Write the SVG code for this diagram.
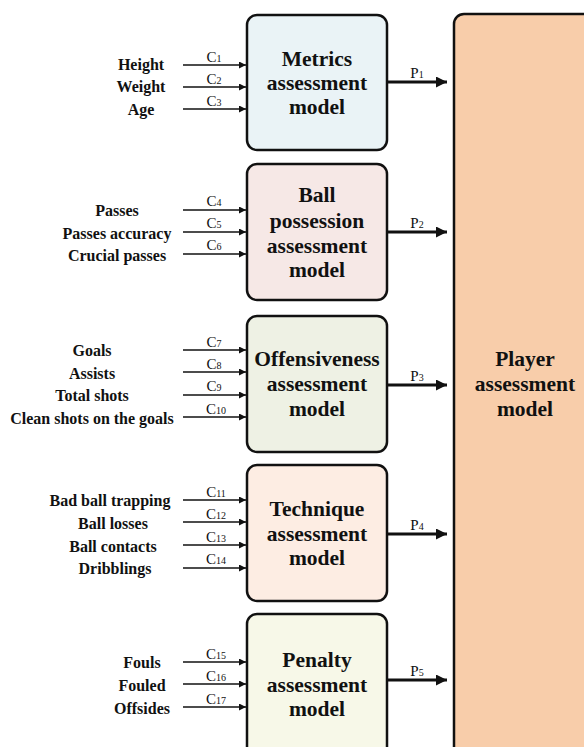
<svg xmlns="http://www.w3.org/2000/svg" width="584" height="747" viewBox="0 0 584 747">
<style>
text{font-family:"Liberation Serif","DejaVu Serif",serif;font-weight:bold;fill:#111}
.lbl{font-size:16px;text-anchor:middle}
.box{stroke:#111;stroke-width:2.5}
.bt{font-size:21.5px;text-anchor:middle}
.c{font-size:15px;text-anchor:middle;font-weight:normal}
.c tspan{font-size:10px}
.in{stroke:#111;stroke-width:1.5;marker-end:url(#a1)}
.out{stroke:#111;stroke-width:3;marker-end:url(#a2)}
</style>
<defs>
<marker id="a1" viewBox="0 0 10 10" refX="10" refY="5" markerWidth="7" markerHeight="7" markerUnits="userSpaceOnUse" orient="auto"><path d="M0,0L10,5L0,10z" fill="#111"/></marker>
<marker id="a2" viewBox="0 0 10 10" refX="10" refY="5" markerWidth="11" markerHeight="11" markerUnits="userSpaceOnUse" orient="auto"><path d="M0,0L10,5L0,10z" fill="#111"/></marker>
</defs>
<rect width="584" height="747" fill="#fff"/>

<g id="player">
<rect class="box" x="454" y="14" width="150" height="760" rx="10" fill="#F8CDAA"/>
<text class="bt" x="525" y="366">Player</text>
<text class="bt" x="525" y="391">assessment</text>
<text class="bt" x="525" y="416">model</text>
</g>

<g id="metrics">
<rect class="box" x="247" y="15" width="140" height="135" rx="10" fill="#EAF3F6"/>
<text class="bt" x="317" y="66">Metrics</text>
<text class="bt" x="317" y="90">assessment</text>
<text class="bt" x="317" y="114">model</text>
</g>
<g id="possession">
<rect class="box" x="247" y="164" width="140" height="136" rx="10" fill="#F6E8E6"/>
<text class="bt" x="317" y="202">Ball</text>
<text class="bt" x="317" y="228">possession</text>
<text class="bt" x="317" y="253">assessment</text>
<text class="bt" x="317" y="277">model</text>
</g>
<g id="offensiveness">
<rect class="box" x="247" y="316" width="140" height="136" rx="10" fill="#EEF1E4"/>
<text class="bt" x="317" y="366">Offensiveness</text>
<text class="bt" x="317" y="391">assessment</text>
<text class="bt" x="317" y="416">model</text>
</g>
<g id="technique">
<rect class="box" x="247" y="465" width="140" height="136" rx="10" fill="#FDEDE3"/>
<text class="bt" x="317" y="516">Technique</text>
<text class="bt" x="317" y="541">assessment</text>
<text class="bt" x="317" y="565">model</text>
</g>
<g id="penalty">
<rect class="box" x="247" y="614" width="140" height="160" rx="10" fill="#F7F8E8"/>
<text class="bt" x="317" y="667">Penalty</text>
<text class="bt" x="317" y="692">assessment</text>
<text class="bt" x="317" y="716">model</text>
</g>

<g id="labels">
<text class="lbl" x="141" y="70">Height</text>
<text class="lbl" x="141" y="92">Weight</text>
<text class="lbl" x="141" y="115">Age</text>
<text class="lbl" x="117" y="216">Passes</text>
<text class="lbl" x="117" y="239">Passes accuracy</text>
<text class="lbl" x="117" y="261">Crucial passes</text>
<text class="lbl" x="92" y="356">Goals</text>
<text class="lbl" x="92" y="379">Assists</text>
<text class="lbl" x="92" y="401">Total shots</text>
<text class="lbl" x="92" y="424">Clean shots on the goals</text>
<text class="lbl" x="110" y="506">Bad ball trapping</text>
<text class="lbl" x="113" y="529">Ball losses</text>
<text class="lbl" x="113" y="552">Ball contacts</text>
<text class="lbl" x="115" y="574">Dribblings</text>
<text class="lbl" x="142" y="668">Fouls</text>
<text class="lbl" x="142" y="691">Fouled</text>
<text class="lbl" x="142" y="714">Offsides</text>
</g>

<g id="connectors">
<line class="in" x1="183" y1="65" x2="246" y2="65"/>
<line class="in" x1="183" y1="87" x2="246" y2="87"/>
<line class="in" x1="183" y1="109" x2="246" y2="109"/>
<line class="in" x1="183" y1="210" x2="246" y2="210"/>
<line class="in" x1="183" y1="232" x2="246" y2="232"/>
<line class="in" x1="183" y1="254" x2="246" y2="254"/>
<line class="in" x1="183" y1="350" x2="246" y2="350"/>
<line class="in" x1="183" y1="372" x2="246" y2="372"/>
<line class="in" x1="183" y1="395" x2="246" y2="395"/>
<line class="in" x1="183" y1="417" x2="246" y2="417"/>
<line class="in" x1="183" y1="500" x2="246" y2="500"/>
<line class="in" x1="183" y1="522" x2="246" y2="522"/>
<line class="in" x1="183" y1="545" x2="246" y2="545"/>
<line class="in" x1="183" y1="568" x2="246" y2="568"/>
<line class="in" x1="183" y1="662" x2="246" y2="662"/>
<line class="in" x1="183" y1="684" x2="246" y2="684"/>
<line class="in" x1="183" y1="707" x2="246" y2="707"/>
<line class="out" x1="387" y1="82" x2="447" y2="82"/>
<line class="out" x1="387" y1="232" x2="447" y2="232"/>
<line class="out" x1="387" y1="385" x2="447" y2="385"/>
<line class="out" x1="387" y1="534" x2="447" y2="534"/>
<line class="out" x1="387" y1="680" x2="447" y2="680"/>
</g>

<g id="edge-labels">
<text class="c" x="214" y="62">C<tspan>1</tspan></text>
<text class="c" x="214" y="84">C<tspan>2</tspan></text>
<text class="c" x="214" y="106">C<tspan>3</tspan></text>
<text class="c" x="214" y="206">C<tspan>4</tspan></text>
<text class="c" x="214" y="228">C<tspan>5</tspan></text>
<text class="c" x="214" y="250">C<tspan>6</tspan></text>
<text class="c" x="214" y="347">C<tspan>7</tspan></text>
<text class="c" x="214" y="369">C<tspan>8</tspan></text>
<text class="c" x="214" y="391">C<tspan>9</tspan></text>
<text class="c" x="216" y="414">C<tspan>10</tspan></text>
<text class="c" x="216" y="497">C<tspan>11</tspan></text>
<text class="c" x="216" y="519">C<tspan>12</tspan></text>
<text class="c" x="216" y="542">C<tspan>13</tspan></text>
<text class="c" x="216" y="564">C<tspan>14</tspan></text>
<text class="c" x="216" y="659">C<tspan>15</tspan></text>
<text class="c" x="216" y="681">C<tspan>16</tspan></text>
<text class="c" x="216" y="704">C<tspan>17</tspan></text>
<text class="c" x="417" y="78">P<tspan>1</tspan></text>
<text class="c" x="417" y="228">P<tspan>2</tspan></text>
<text class="c" x="417" y="381">P<tspan>3</tspan></text>
<text class="c" x="417" y="530">P<tspan>4</tspan></text>
<text class="c" x="417" y="676">P<tspan>5</tspan></text>
</g>
</svg>
